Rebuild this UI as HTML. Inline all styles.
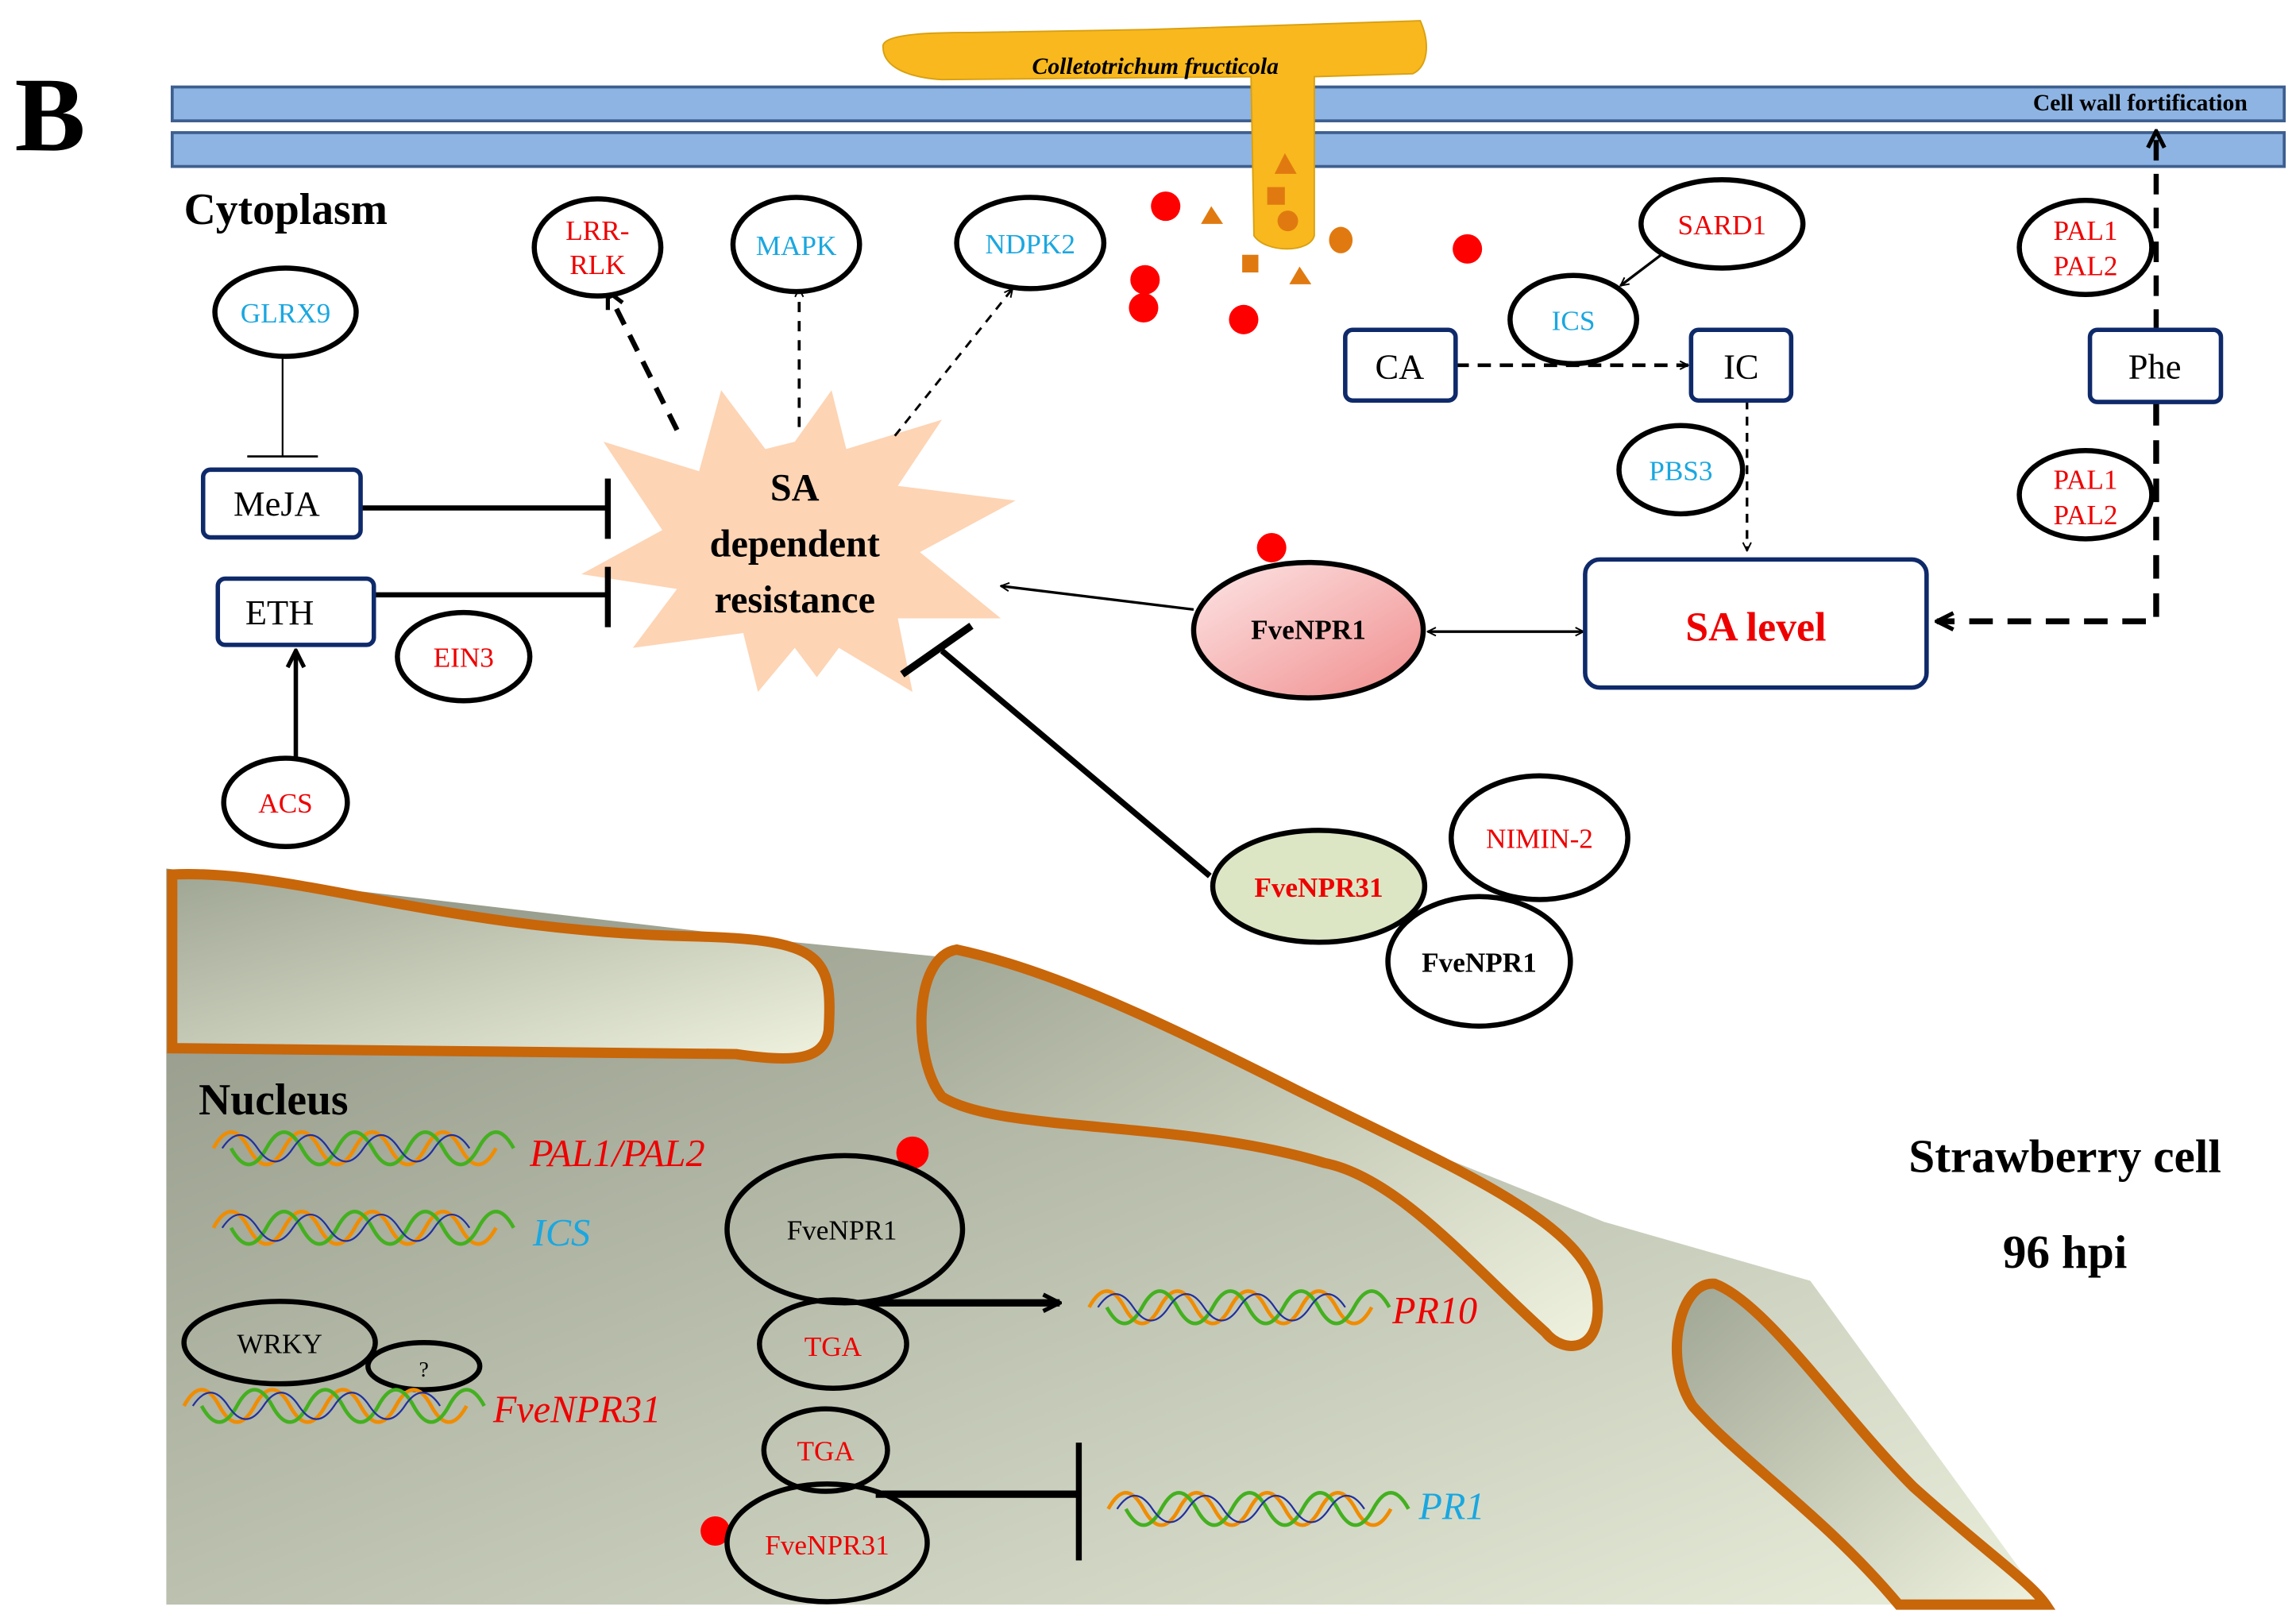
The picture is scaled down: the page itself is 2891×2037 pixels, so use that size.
<!DOCTYPE html>
<html><head><meta charset="utf-8"><style>html,body{margin:0;padding:0;background:#fff}svg{display:block}</style></head>
<body>
<svg width="2891" height="2037" viewBox="0 0 1560 1099" xmlns="http://www.w3.org/2000/svg" font-family="Liberation Serif, serif">
<defs>
<linearGradient id="nuc" x1="0" y1="0" x2="1" y2="1"><stop offset="0" stop-color="#8f9484"/><stop offset="1" stop-color="#e9eedb"/></linearGradient>
<linearGradient id="pore" x1="0" y1="0" x2="1" y2="1"><stop offset="0" stop-color="#a0a694"/><stop offset="1" stop-color="#eef2de"/></linearGradient>
<linearGradient id="pink" x1="0" y1="0" x2="1" y2="1"><stop offset="0" stop-color="#fde6e6"/><stop offset="1" stop-color="#f08c8c"/></linearGradient>
<marker id="ah" viewBox="0 0 10 10" refX="9" refY="5" markerWidth="7" markerHeight="7" orient="auto-start-reverse" markerUnits="userSpaceOnUse"><path d="M1,1 L9,5 L1,9" fill="none" stroke="#000" stroke-width="1.5"/></marker>
<marker id="ahb" viewBox="0 0 10 10" refX="9" refY="5" markerWidth="14" markerHeight="14" orient="auto" markerUnits="userSpaceOnUse"><path d="M1,1 L9,5 L1,9" fill="none" stroke="#000" stroke-width="2"/></marker>
<g id="d1" fill="none" stroke-width="2.5">
<path d="M0,0 q12,-22 24,0 t24,0 t24,0 t24,0 t24,0 t24,0 t24,0 t24,0" stroke="#f08c00"/>
<path d="M12,0 q12,22 24,0 t24,0 t24,0 t24,0 t24,0 t24,0 t24,0 t24,0" stroke="#44b020"/>
<path d="M6,0 q12,-18 24,0 t24,0 t24,0 t24,0 t24,0 t24,0 t24,0" stroke="#2030a0" stroke-width="1.2"/>
</g>
</defs>
<!-- nucleus -->
<path d="M113,590 L540,640 L640,650 L1090,830 L1230,870 L1390,1090 L113,1090 Z" fill="url(#nuc)"/>
<path d="M117,594 C200,590 300,632 470,636 C560,638 566,650 563,700 C560,720 540,722 500,716 L117,712 Z" fill="url(#pore)" stroke="#c8660a" stroke-width="7"/>
<path d="M650,645 C720,660 800,700 880,740 C980,790 1080,830 1085,880 C1090,920 1062,920 1050,905 C1000,860 950,800 900,790 C800,760 680,770 640,745 C620,720 620,650 650,645 Z" fill="url(#pore)" stroke="#c8660a" stroke-width="7"/>
<path d="M1165,872 C1200,885 1250,960 1300,1010 C1350,1055 1380,1075 1390,1090 L1290,1090 C1240,1030 1180,990 1150,955 C1130,925 1140,870 1165,872 Z" fill="url(#pore)" stroke="#c8660a" stroke-width="7"/>
<!-- cell wall -->
<rect x="117" y="59" width="1435" height="23" fill="#8eb4e3" stroke="#3d5f8f" stroke-width="2"/>
<rect x="117" y="90" width="1435" height="23" fill="#8eb4e3" stroke="#3d5f8f" stroke-width="2"/>
<text x="1527" y="75" text-anchor="end" font-size="16" font-weight="bold">Cell wall  fortification</text>
<!-- fungus -->
<path d="M600,32 C598,22 640,22 660,22 L780,20 L965,14 C972,30 970,45 960,50 L893,52 L893,160 C890,172 860,172 852,160 L850,52 L640,54 C610,52 600,42 600,32 Z" fill="#f8b81e" stroke="#d9a010" stroke-width="1"/>
<text x="785" y="50" text-anchor="middle" font-size="16" font-weight="bold" font-style="italic">Colletotrichum fructicola</text>
<polygon points="873,104 866,118 881,118" fill="#e07a10"/>
<rect x="861" y="127" width="12" height="12" fill="#e07a10"/>
<circle cx="875" cy="150" r="7" fill="#e07a10"/>
<polygon points="823,140 816,152 831,152" fill="#e07a10"/>
<polygon points="883,181 876,193 891,193" fill="#e07a10"/>
<rect x="844" y="173" width="11" height="12" fill="#e07a10"/>
<ellipse cx="911" cy="163" rx="8" ry="9" fill="#e07a10"/>
<g fill="#f00"><circle cx="792" cy="140" r="10"/><circle cx="778" cy="190" r="10"/><circle cx="777" cy="209" r="10"/><circle cx="845" cy="217" r="10"/><circle cx="997" cy="169" r="10"/><circle cx="864" cy="372" r="10"/><circle cx="620" cy="783" r="11"/><circle cx="486" cy="1040" r="10"/></g>
<text x="10" y="102" font-size="72" font-weight="bold">B</text>
<text x="125" y="152" font-size="30" font-weight="bold">Cytoplasm</text>
<!-- starburst -->
<polygon points="540,300 565,265 575,305 640,285 610,330 690,340 625,375 680,420 610,420 620,470 570,440 555,460 540,440 515,470 505,430 430,440 460,400 395,390 450,360 410,300 475,320 490,265 520,305" fill="#fdd4b4"/>
<g font-size="26" font-weight="bold" text-anchor="middle"><text x="540" y="340">SA</text><text x="540" y="378">dependent</text><text x="540" y="416">resistance</text></g>
<!-- connectors -->
<g stroke="#000" fill="none">
<line x1="460" y1="292" x2="413" y2="198" stroke-width="3.5" stroke-dasharray="12,8" marker-end="url(#ahb)"/>
<line x1="543" y1="290" x2="543" y2="196" stroke-width="2" stroke-dasharray="7,6" marker-end="url(#ah)"/>
<line x1="608" y1="296" x2="688" y2="196" stroke-width="1.6" stroke-dasharray="6,5" marker-end="url(#ah)"/>
<line x1="192" y1="242" x2="192" y2="310" stroke-width="1.2"/><line x1="168" y1="310" x2="216" y2="310" stroke-width="1.5"/>
<line x1="245" y1="345" x2="413" y2="345" stroke-width="3.5"/><line x1="413" y1="325" x2="413" y2="366" stroke-width="4"/>
<line x1="254" y1="404" x2="413" y2="404" stroke-width="3.5"/><line x1="413" y1="385" x2="413" y2="426" stroke-width="4"/>
<line x1="201" y1="515" x2="201" y2="442" stroke-width="3" marker-end="url(#ahb)"/>
<line x1="811" y1="414" x2="680" y2="398" stroke-width="1.8" marker-end="url(#ah)"/>
<line x1="970" y1="429" x2="1076" y2="429" stroke-width="1.8" marker-end="url(#ah)" marker-start="url(#ah)"/>
<line x1="822" y1="595" x2="640" y2="442" stroke-width="4"/><line x1="613" y1="458" x2="660" y2="425" stroke-width="5"/>
<line x1="989" y1="248" x2="1147" y2="248" stroke-width="2.5" stroke-dasharray="9,6" marker-end="url(#ah)"/>
<line x1="1130" y1="172" x2="1101" y2="194" stroke-width="1.8" marker-end="url(#ah)"/>
<line x1="1187" y1="272" x2="1187" y2="374" stroke-width="1.8" stroke-dasharray="6,5" marker-end="url(#ah)"/>
<line x1="1465" y1="224" x2="1465" y2="89" stroke-width="3.5" stroke-dasharray="14,9" marker-end="url(#ahb)"/>
<polyline points="1465,273 1465,422 1316,422" stroke-width="4" stroke-dasharray="16,10" marker-end="url(#ahb)"/>
<line x1="590" y1="885" x2="720" y2="885" stroke-width="5" marker-end="url(#ahb)"/>
<line x1="595" y1="1015" x2="733" y2="1015" stroke-width="5"/><line x1="733" y1="980" x2="733" y2="1060" stroke-width="4"/>
</g>
<!-- boxes -->
<g fill="#fff" stroke="#0f2a6a" stroke-width="3">
<rect x="138" y="319" width="107" height="46" rx="5"/><rect x="148" y="393" width="106" height="45" rx="5"/>
<rect x="914" y="224" width="75" height="48" rx="5"/><rect x="1149" y="224" width="68" height="48" rx="5"/>
<rect x="1420" y="224" width="89" height="49" rx="5"/><rect x="1077" y="380" width="232" height="87" rx="10"/>
</g>
<g font-size="24" text-anchor="middle"><text x="188" y="350">MeJA</text><text x="190" y="424">ETH</text><text x="951" y="257">CA</text><text x="1183" y="257">IC</text><text x="1464" y="257">Phe</text></g>
<text x="1193" y="435" text-anchor="middle" font-size="28" font-weight="bold" fill="#e00">SA level</text>
<!-- ellipses -->
<g stroke="#000" stroke-width="3.5" fill="#fff">
<ellipse cx="406" cy="168" rx="43" ry="33"/><ellipse cx="541" cy="166" rx="43" ry="32"/><ellipse cx="700" cy="165" rx="50" ry="31"/>
<ellipse cx="194" cy="212" rx="48" ry="30"/><ellipse cx="1170" cy="152" rx="55" ry="30"/><ellipse cx="1069" cy="217" rx="43" ry="30"/>
<ellipse cx="1142" cy="319" rx="42" ry="30"/><ellipse cx="1417" cy="168" rx="45" ry="32"/><ellipse cx="1417" cy="336" rx="45" ry="30"/>
<ellipse cx="315" cy="446" rx="45" ry="30"/><ellipse cx="194" cy="545" rx="42" ry="30"/>
<ellipse cx="889" cy="428" rx="78" ry="46" fill="url(#pink)"/>
<ellipse cx="1046" cy="569" rx="60" ry="42"/><ellipse cx="1005" cy="653" rx="62" ry="44"/>
<ellipse cx="896" cy="602" rx="72" ry="38" fill="#dde6c4"/>
</g>
<g stroke="#000" stroke-width="3.5" fill="none">
<ellipse cx="574" cy="835" rx="80" ry="50"/><ellipse cx="566" cy="913" rx="50" ry="30"/><ellipse cx="190" cy="912" rx="65" ry="28"/>
<ellipse cx="288" cy="928" rx="38" ry="16"/><ellipse cx="561" cy="985" rx="42" ry="28"/><ellipse cx="562" cy="1048" rx="68" ry="40"/>
</g>
<g font-size="19" text-anchor="middle">
<text x="406" y="163" fill="#e00">LRR-</text><text x="406" y="186" fill="#e00">RLK</text>
<text x="541" y="173" fill="#1aa7e0">MAPK</text><text x="700" y="172" fill="#1aa7e0">NDPK2</text>
<text x="194" y="219" fill="#1aa7e0">GLRX9</text><text x="1170" y="159" fill="#e00">SARD1</text>
<text x="1069" y="224" fill="#1aa7e0">ICS</text><text x="1142" y="326" fill="#1aa7e0">PBS3</text>
<text x="1417" y="163" fill="#e00">PAL1</text><text x="1417" y="187" fill="#e00">PAL2</text>
<text x="1417" y="332" fill="#e00">PAL1</text><text x="1417" y="356" fill="#e00">PAL2</text>
<text x="315" y="453" fill="#e00">EIN3</text><text x="194" y="552" fill="#e00">ACS</text>
<text x="1046" y="576" fill="#e00">NIMIN-2</text>
<text x="889" y="434" font-weight="bold">FveNPR1</text>
<text x="1005" y="660" font-weight="bold">FveNPR1</text>
<text x="896" y="609" font-weight="bold" fill="#e00">FveNPR31</text>
<text x="572" y="842">FveNPR1</text><text x="566" y="921" fill="#e00">TGA</text><text x="190" y="919">WRKY</text>
<text x="288" y="935" font-size="15">?</text><text x="561" y="992" fill="#e00">TGA</text><text x="562" y="1056" fill="#e00">FveNPR31</text>
</g>
<text x="135" y="757" font-size="30" font-weight="bold">Nucleus</text>
<g font-size="32" font-weight="bold" text-anchor="middle"><text x="1403" y="796">Strawberry cell</text><text x="1403" y="861">96 hpi</text></g>
<!-- DNA -->
<use href="#d1" transform="translate(145,780)"/>
<use href="#d1" transform="translate(145,834)"/>
<use href="#d1" transform="translate(125,955)"/>
<use href="#d1" transform="translate(740,888)"/>
<use href="#d1" transform="translate(753,1025)"/>
<g font-size="26" font-style="italic">
<text x="360" y="792" fill="#e00">PAL1/PAL2</text><text x="362" y="846" fill="#1aa7e0">ICS</text>
<text x="335" y="966" fill="#e00">FveNPR31</text><text x="946" y="899" fill="#e00">PR10</text><text x="964" y="1032" fill="#1aa7e0">PR1</text>
</g>
</svg>
</body></html>
